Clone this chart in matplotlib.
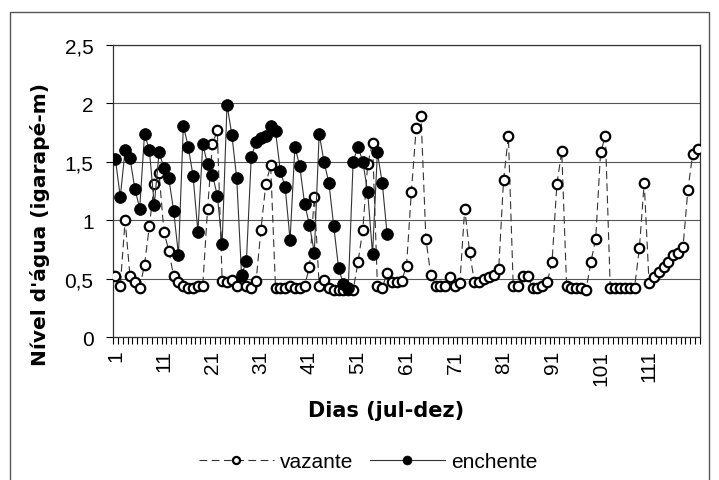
import numpy as np
import matplotlib.pyplot as plt
from matplotlib.patches import Rectangle

# dias 1..121 (jul-dez)
dias = np.arange(1, 122)

vazante = [0.52, 0.44, 1.00, 0.52, 0.47, 0.42, 0.62, 0.95, 1.31, 1.40,
           0.90, 0.74, 0.52, 0.47, 0.44, 0.42, 0.42, 0.44, 0.44, 1.10,
           1.65, 1.77, 0.48, 0.47, 0.49, 0.44, 0.52, 0.44, 0.42, 0.48,
           0.92, 1.31, 1.47, 0.42, 0.42, 0.42, 0.44, 0.42, 0.42, 0.44,
           0.60, 1.20, 0.44, 0.49, 0.42, 0.40, 0.40, 0.40, 0.40, 0.40,
           0.64, 0.92, 1.48, 1.66, 0.44, 0.42, 0.55, 0.47, 0.47, 0.48,
           0.61, 1.24, 1.79, 1.89, 0.84, 0.53, 0.44, 0.44, 0.44, 0.51,
           0.44, 0.46, 1.10, 0.73, 0.47, 0.47, 0.50, 0.51, 0.53, 0.58,
           1.34, 1.72, 0.44, 0.44, 0.52, 0.52, 0.42, 0.42, 0.44, 0.47,
           0.64, 1.31, 1.59, 0.44, 0.42, 0.42, 0.42, 0.40, 0.64, 0.84,
           1.58, 1.72, 0.42, 0.42, 0.42, 0.42, 0.42, 0.42, 0.76, 1.32,
           0.46, 0.51, 0.56, 0.60, 0.64, 0.70, 0.72, 0.77, 1.26, 1.57,
           1.61]

# enchente only measured up to day 57
enchente = [1.52, 1.20, 1.60, 1.53, 1.27, 1.10, 1.74, 1.60, 1.13, 1.58,
            1.45, 1.36, 1.08, 0.70, 1.81, 1.63, 1.38, 0.90, 1.65, 1.48,
            1.39, 1.21, 0.80, 1.99, 1.73, 1.36, 0.53, 0.65, 1.54, 1.67,
            1.70, 1.72, 1.81, 1.76, 1.42, 1.28, 0.83, 1.63, 1.46, 1.14,
            0.96, 0.72, 1.74, 1.50, 1.32, 0.95, 0.59, 0.45, 0.42, 1.50,
            1.63, 1.50, 1.24, 0.71, 1.58, 1.32, 0.88]
enchente = enchente + [np.nan] * (len(dias) - len(enchente))

yticks = [0, 0.5, 1, 1.5, 2, 2.5]
ylabels = ['0', '0,5', '1', '1,5', '2', '2,5']
xticks = list(range(1, 121, 10))

plt.rcParams['font.family'] = ['Liberation Sans', 'DejaVu Sans']

fig = plt.figure(figsize=(7.19, 4.81), dpi=100)
ax = fig.add_axes([113/719, 1-338/481, 587/719, 292/481])

# dashed line with open markers
ax.plot(dias, vazante, color='#333333', lw=0.8, ls=(0, (7, 4)),
        marker='o', ms=6.8, mfc='white', mec='black', mew=1.6,
        label='vazante', zorder=3)
ax.plot(dias, enchente, color='#333333', lw=0.8, ls='-',
        marker='o', ms=8.5, mfc='black', mec='black', mew=0.5,
        label='enchente', zorder=4)

ax.set_xlim(0.5, 121.5)
ax.set_ylim(0, 2.5)
ax.set_yticks(yticks)
ax.set_yticklabels(ylabels, fontsize=15)
ax.set_xticks(xticks)
ax.set_xticklabels([str(t) for t in xticks], rotation=90, fontsize=15)
ax.set_xticks(np.arange(0.5, 122, 1), minor=True)
ax.tick_params(axis='x', which='major', length=0, pad=9)
ax.tick_params(axis='x', which='minor', length=5, width=0.8, direction='out')
ax.tick_params(axis='y', which='major', length=5, width=0.8, pad=9)

ax.grid(axis='y', color='#555555', lw=0.8)
ax.set_axisbelow(True)
for s in ax.spines.values():
    s.set_color('#333333')
    s.set_linewidth(0.9)

fig.text(40/719, 1-225/481, "Nível d'água (igarapé-m)", rotation=90,
         ha='center', va='center', fontsize=14.5, fontweight='bold',
         family='DejaVu Sans')
fig.text(386/719, 1-411/481, 'Dias (jul-dez)', ha='center', va='center',
         fontsize=15, fontweight='bold', family='DejaVu Sans')

fig.legend(loc='center', bbox_to_anchor=(368/719, 1-463/481), ncol=2,
           frameon=False, fontsize=15, handlelength=3.6, columnspacing=0.8,
           handletextpad=0.3, markerscale=0.75)

# outer chart border
fig.add_artist(Rectangle((10/719, -0.02), 699/719, 1-13/481+0.02,
                         transform=fig.transFigure, fill=False,
                         ec='#555555', lw=1))

fig.savefig('out.png', dpi=100)
